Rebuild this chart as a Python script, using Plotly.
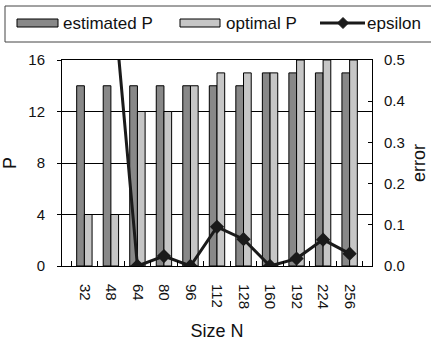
import plotly.graph_objects as go

# Problem sizes and measured results
sizes = ["32", "48", "64", "80", "96", "112", "128", "160", "192", "224", "256"]
estimated_p = [14, 14, 14, 14, 14, 14, 14, 15, 15, 15, 15]
optimal_p = [4, 4, 12, 12, 14, 15, 15, 15, 16, 16, 16]
epsilon = [0.85, 0.72, 0.0, 0.024, 0.0, 0.095, 0.065, 0.0, 0.018, 0.064, 0.030]

p_ticks = [0, 4, 8, 12, 16]
err_ticks = [0.0, 0.1, 0.2, 0.3, 0.4, 0.5]

W, H = 431, 347
L, R, T, B = 62, 59, 60, 81
PW, PH = W - L - R, H - T - B

FONT = "Liberation Sans, Arial, sans-serif"
DARK = "#888888"
LIGHT = "#c6c6c6"
LINE = "#1a1a1a"


def px(x):
    return (x - L) / PW


def py(y):
    return (H - B - y) / PH


fig = go.Figure()
fig.add_trace(go.Bar(x=sizes, y=estimated_p, name="estimated P",
                     marker=dict(color=DARK, line=dict(color="black", width=1))))
fig.add_trace(go.Bar(x=sizes, y=optimal_p, name="optimal P",
                     marker=dict(color=LIGHT, line=dict(color="black", width=1))))
fig.add_trace(go.Scatter(x=sizes, y=epsilon, name="epsilon", yaxis="y2",
                         mode="lines+markers",
                         line=dict(color=LINE, width=3),
                         marker=dict(symbol="diamond", size=11, color=LINE)))

# Legend drawn as a framed strip above the plot
shapes = [
    dict(type="rect", xref="paper", yref="paper",
         x0=px(5), x1=px(433), y0=py(6), y1=py(42),
         line=dict(color="#444444", width=1), fillcolor="rgba(0,0,0,0)"),
    dict(type="rect", xref="paper", yref="paper",
         x0=px(17), x1=px(58), y0=py(19), y1=py(27),
         line=dict(color="black", width=1), fillcolor=DARK),
    dict(type="rect", xref="paper", yref="paper",
         x0=px(180), x1=px(220), y0=py(19), y1=py(27),
         line=dict(color="black", width=1), fillcolor=LIGHT),
    dict(type="line", xref="paper", yref="paper",
         x0=px(320), x1=px(365), y0=py(23), y1=py(23),
         line=dict(color=LINE, width=3)),
]
cx, cy, d = 343, 23, 5.5
shapes.append(dict(
    type="path", xref="paper", yref="paper",
    path=f"M {px(cx - d)},{py(cy)} L {px(cx)},{py(cy - d)} L {px(cx + d)},{py(cy)} "
         f"L {px(cx)},{py(cy + d)} Z",
    fillcolor=LINE, line=dict(color=LINE, width=1)))

annotations = []
for label, x0 in [("estimated P", 61), ("optimal P", 224), ("epsilon", 365)]:
    annotations.append(dict(text=label, xref="paper", yref="paper",
                            x=px(x0), y=py(23), xanchor="left", yanchor="middle",
                            showarrow=False, font=dict(size=17, color="#111111", family=FONT)))

fig.update_layout(
    width=W, height=H,
    margin=dict(l=L, r=R, t=T, b=B),
    paper_bgcolor="white", plot_bgcolor="white",
    font=dict(family=FONT, color="#111111"),
    showlegend=False,
    barmode="group", bargap=0.42, bargroupgap=0,
    shapes=shapes, annotations=annotations,
    xaxis=dict(type="category", tickangle=90, automargin=False,
               ticks="inside", tickson="boundaries", ticklen=5, tickcolor="black",
               showline=True, linecolor="black", linewidth=1, mirror=True,
               tickfont=dict(size=15), ticklabelstandoff=14,
               title=dict(text="Size N", font=dict(size=18), standoff=16)),
    yaxis=dict(range=[0, 16], tickvals=p_ticks, ticktext=[str(v) for v in p_ticks],
               showgrid=True, gridcolor="black", gridwidth=1, automargin=False,
               ticks="outside", ticklen=4, tickcolor="black",
               showline=True, linecolor="black", linewidth=1, mirror=True,
               zeroline=False, tickfont=dict(size=15), ticklabelstandoff=9,
               title=dict(text="P", font=dict(size=18), standoff=9)),
    yaxis2=dict(range=[0, 0.5], tickvals=err_ticks, automargin=False,
                ticktext=[f"{v:.1f}" for v in err_ticks],
                overlaying="y", side="right", showgrid=False, zeroline=False,
                ticks="inside", ticklen=4, tickcolor="black",
                tickfont=dict(size=15), ticklabelstandoff=11,
                title=dict(text="error", font=dict(size=18), standoff=8)),
)

fig.write_html("out.html")
